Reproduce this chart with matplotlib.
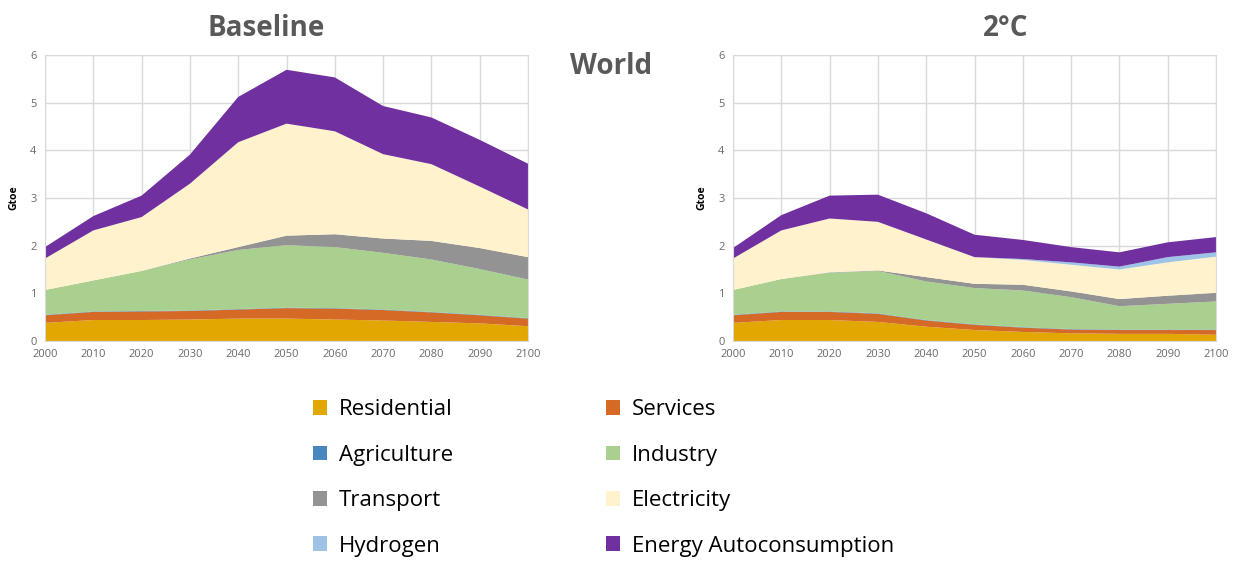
import matplotlib.pyplot as plt
from matplotlib.patches import Patch

years = [2000, 2010, 2020, 2030, 2040, 2050, 2060, 2070, 2080, 2090, 2100]
sectors = ['Residential', 'Services', 'Agriculture', 'Industry', 'Transport',
           'Electricity', 'Hydrogen', 'Energy Autoconsumption']
colors = ['#E2A700', '#D46A26', '#4A86BE', '#A9D08E', '#939393',
          '#FFF2CC', '#9DC3E6', '#7030A0']

# Baseline scenario (Gtoe), per sector
base_residential = [0.38, 0.44, 0.44, 0.45, 0.47, 0.47, 0.45, 0.43, 0.40, 0.37, 0.31]
base_services = [0.16, 0.17, 0.18, 0.18, 0.19, 0.22, 0.23, 0.22, 0.20, 0.17, 0.16]
base_agriculture = [0.01, 0.01, 0.01, 0.01, 0.01, 0.01, 0.01, 0.01, 0.01, 0.01, 0.01]
base_industry = [0.52, 0.65, 0.84, 1.07, 1.24, 1.31, 1.28, 1.19, 1.10, 0.96, 0.81]
base_transport = [0.0, 0.0, 0.0, 0.02, 0.06, 0.20, 0.27, 0.30, 0.39, 0.44, 0.47]
base_electricity = [0.66, 1.05, 1.13, 1.57, 2.20, 2.35, 2.16, 1.77, 1.61, 1.29, 1.00]
base_hydrogen = [0.0, 0.0, 0.0, 0.0, 0.0, 0.0, 0.0, 0.0, 0.0, 0.0, 0.0]
base_autocons = [0.24, 0.30, 0.45, 0.61, 0.95, 1.13, 1.13, 1.01, 0.98, 0.98, 0.96]

# 2°C scenario (Gtoe), per sector
c2_residential = [0.38, 0.44, 0.44, 0.40, 0.30, 0.23, 0.19, 0.16, 0.15, 0.15, 0.13]
c2_services = [0.16, 0.17, 0.17, 0.17, 0.13, 0.11, 0.09, 0.08, 0.08, 0.08, 0.10]
c2_agriculture = [0.01, 0.01, 0.01, 0.01, 0.01, 0.01, 0.01, 0.01, 0.01, 0.01, 0.01]
c2_industry = [0.52, 0.68, 0.81, 0.89, 0.81, 0.76, 0.77, 0.67, 0.49, 0.54, 0.59]
c2_transport = [0.0, 0.0, 0.01, 0.01, 0.09, 0.09, 0.12, 0.12, 0.15, 0.17, 0.18]
c2_electricity = [0.66, 1.02, 1.13, 1.02, 0.79, 0.56, 0.52, 0.56, 0.62, 0.70, 0.76]
c2_hydrogen = [0.0, 0.0, 0.0, 0.0, 0.0, 0.0, 0.02, 0.05, 0.06, 0.11, 0.09]
c2_autocons = [0.22, 0.32, 0.48, 0.57, 0.55, 0.47, 0.40, 0.32, 0.30, 0.31, 0.32]

baseline = [base_residential, base_services, base_agriculture, base_industry,
            base_transport, base_electricity, base_hydrogen, base_autocons]
two_deg = [c2_residential, c2_services, c2_agriculture, c2_industry,
           c2_transport, c2_electricity, c2_hydrogen, c2_autocons]

fig = plt.figure(figsize=(12.36, 5.61), dpi=100)
plt.rcParams['font.family'] = ['Open Sans', 'DejaVu Sans']

ax1 = fig.add_axes([45 / 1236, 1 - 341 / 561, 483 / 1236, 286 / 561])
ax2 = fig.add_axes([733 / 1236, 1 - 341 / 561, 483 / 1236, 286 / 561])

for ax, data in [(ax1, baseline), (ax2, two_deg)]:
    ax.stackplot(years, *data, colors=colors, linewidth=0, zorder=2)
    ax.set_xlim(2000, 2100)
    ax.set_ylim(0, 6)
    ax.set_xticks(years)
    ax.set_yticks(range(0, 7))
    ax.grid(True, color='#D9D9D9', linewidth=1, zorder=0)
    ax.set_axisbelow(True)
    for s in ax.spines.values():
        s.set_color('#D9D9D9')
    ax.tick_params(length=0, labelsize=8, labelcolor='#6A6A6A', pad=6)
    ax.set_ylabel('Gtoe', fontsize=7.5, fontweight='bold', labelpad=8)

fig.text(266 / 1236, 1 - 28 / 561, 'Baseline', ha='center', va='center',
         fontsize=20, fontweight='bold', color='#595959')
fig.text(1006 / 1236, 1 - 28 / 561, '2°C', ha='center', va='center',
         fontsize=20, fontweight='bold', color='#595959')
fig.text(611 / 1236, 1 - 67 / 561, 'World', ha='center', va='center',
         fontsize=20, fontweight='bold', color='#595959')

order = [0, 2, 4, 6, 1, 3, 5, 7]
handles = [Patch(facecolor=colors[i], edgecolor='none', label=sectors[i]) for i in order]
fig.legend(handles=handles, loc='center left', bbox_to_anchor=(293 / 1236, 1 - 478 / 561),
           ncol=2, frameon=False, fontsize=16, handlelength=0.65, handleheight=0.65,
           handletextpad=0.5, labelspacing=1.1, columnspacing=6.9)

fig.savefig('out.png', dpi=100)
